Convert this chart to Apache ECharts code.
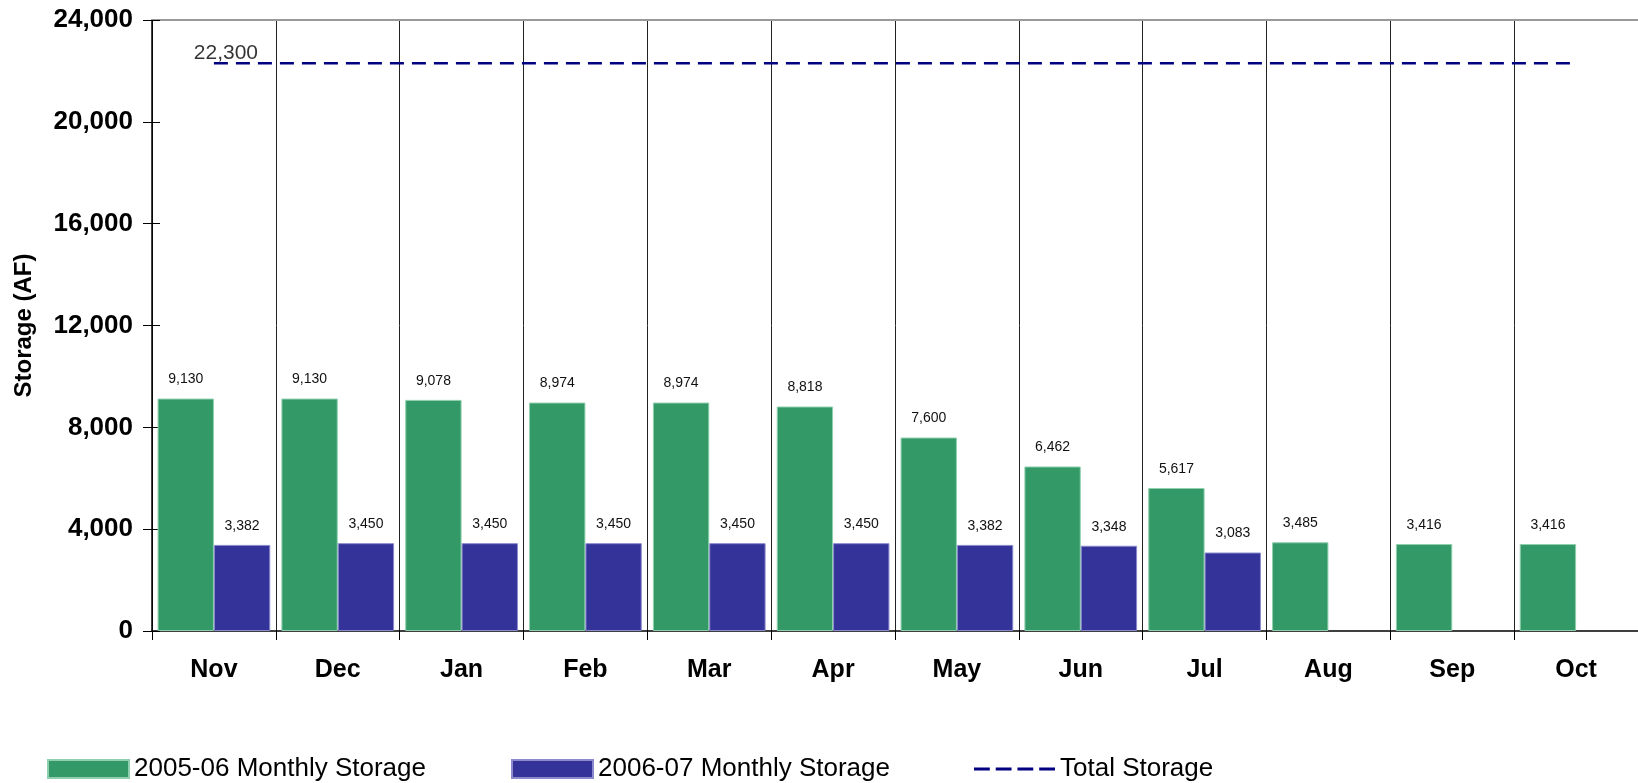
<!DOCTYPE html>
<html>
<head>
<meta charset="utf-8">
<script src="https://cdn.jsdelivr.net/npm/echarts@6/dist/echarts.min.js"></script>
<style>
html,body{margin:0;padding:0;background:#fff;}
#chart{width:1638px;height:783px;}
</style>
</head>
<body>
<div id="chart"></div>
<script>
const months = ['Nov','Dec','Jan','Feb','Mar','Apr','May','Jun','Jul','Aug','Sep','Oct'];
const storage0506 = [9130, 9130, 9078, 8974, 8974, 8818, 7600, 6462, 5617, 3485, 3416, 3416];
const storage0607 = [3382, 3450, 3450, 3450, 3450, 3450, 3382, 3348, 3083, null, null, null];
const totalStorage = [22300, 22300, 22300, 22300, 22300, 22300, 22300, 22300, 22300, 22300, 22300, 22300];
const yTicks = [0, 4000, 8000, 12000, 16000, 20000, 24000];

const FONT = '"Liberation Sans", Arial, sans-serif';
const fmt = v => Number(v).toLocaleString('en-US');

const chart = echarts.init(document.getElementById('chart'), null, {renderer: 'canvas'});

// label for the total storage line, shown on its first point only
const totalLabelData = totalStorage.map((v, i) => i === 0 ? v : null);

const legendCommon = {
  top: 756, padding: 0, itemWidth: 81, itemHeight: 18, itemGap: 0,
  textStyle: {fontFamily: FONT, fontSize: 26, color: '#000', lineHeight: 26},
  selectedMode: false
};

const dashIcon = 'path://M0 0h16v3h-16z M22 0h16v3h-16z M44 0h16v3h-16z M66 0h16v3h-16z';

chart.setOption({
  animation: false,
  backgroundColor: '#fff',
  textStyle: {fontFamily: FONT},
  grid: {left: 152, top: 20, right: 0, bottom: 152, containLabel: false},
  legend: [
    Object.assign({left: 47, icon: 'rect', data: ['2005-06 Monthly Storage']}, legendCommon),
    Object.assign({left: 511, icon: 'rect', data: ['2006-07 Monthly Storage']}, legendCommon),
    Object.assign({left: 974, icon: dashIcon, symbolKeepAspect: true, data: ['Total Storage']}, legendCommon)
  ],
  xAxis: [{
    type: 'category',
    data: months,
    boundaryGap: true,
    axisLine: {show: true, lineStyle: {color: '#000', width: 1.5}},
    axisTick: {show: true, length: 9, lineStyle: {color: '#000', width: 1}},
    splitLine: {show: true, lineStyle: {color: '#222', width: 1}},
    axisLabel: {fontFamily: FONT, fontSize: 25, fontWeight: 'bold', color: '#000', margin: 27}
  }, {
    type: 'category',
    data: months,
    position: 'top',
    axisLine: {show: true, onZero: false, lineStyle: {color: '#999', width: 2}},
    axisTick: {show: false},
    axisLabel: {show: false},
    splitLine: {show: false}
  }],
  yAxis: [{
    type: 'value',
    min: yTicks[0], max: yTicks[yTicks.length - 1], interval: yTicks[1] - yTicks[0],
    position: 'left',
    name: 'Storage (AF)',
    nameLocation: 'middle',
    nameRotate: 90,
    nameGap: 116,
    nameTextStyle: {fontFamily: FONT, fontSize: 24, fontWeight: 'bold', color: '#000'},
    axisLine: {show: true, lineStyle: {color: '#000', width: 1.5}},
    axisTick: {show: true, length: 9, lineStyle: {color: '#000', width: 1}},
    splitLine: {show: false},
    axisLabel: {fontFamily: FONT, fontSize: 26, fontWeight: 'bold', color: '#000', margin: 19,
      formatter: v => fmt(v)}
  }, {
    type: 'value',
    min: yTicks[0], max: yTicks[yTicks.length - 1], interval: yTicks[1] - yTicks[0],
    position: 'left', offset: 0,
    axisLine: {show: false},
    axisTick: {show: true, inside: true, length: 8, lineStyle: {color: '#000', width: 1}},
    axisLabel: {show: false},
    splitLine: {show: false}
  }],
  series: [{
    name: '2005-06 Monthly Storage',
    type: 'bar',
    data: storage0506,
    barGap: '0%',
    barCategoryGap: '9%',
    itemStyle: {color: '#339966', borderColor: '#8fcfae', borderWidth: 1},
    label: {show: true, position: 'top', distance: 12, fontFamily: FONT, fontSize: 14, color: '#111',
      formatter: p => fmt(p.value)}
  }, {
    name: '2006-07 Monthly Storage',
    type: 'bar',
    data: storage0607,
    barGap: '0%',
    barCategoryGap: '9%',
    itemStyle: {color: '#333399', borderColor: '#8a8acc', borderWidth: 1},
    label: {show: true, position: 'top', distance: 12, fontFamily: FONT, fontSize: 14, color: '#111',
      formatter: p => fmt(p.value)}
  }, {
    name: 'Total Storage',
    type: 'line',
    data: totalStorage,
    symbol: 'none',
    z: 5,
    lineStyle: {color: '#000080', width: 2.5, type: [14, 8]},
    itemStyle: {color: '#000080'}
  }, {
    name: 'totalLabel',
    type: 'scatter',
    data: totalLabelData,
    symbol: 'circle',
    symbolSize: 0.01,
    itemStyle: {color: 'rgba(0,0,0,0)'},
    label: {show: true, position: 'top', distance: 0, offset: [12, 0],
      formatter: p => fmt(p.value), fontFamily: FONT, fontSize: 21, color: '#000'}
  }]
});
</script>
</body>
</html>
